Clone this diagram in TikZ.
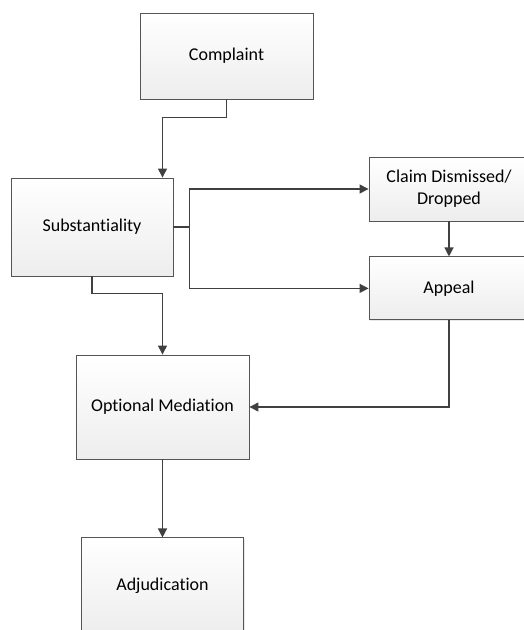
\documentclass[tikz,border=0pt]{standalone}
\usepackage{fontspec}
\setmainfont{Carlito}[Ligatures={NoCommon}]
\usetikzlibrary{positioning,arrows.meta,shadows}

\definecolor{linegray}{HTML}{404040}
\definecolor{boxline}{HTML}{555555}

\tikzset{
    stepbox/.style={rectangle, draw=boxline, line width=0.9pt,
        top color=white, bottom color=black!7,
        drop shadow={shadow xshift=1.2pt, shadow yshift=-1.2pt, opacity=0.18},
        align=center, font=\fontsize{18}{22}\selectfont, inner sep=0pt},
    arr/.style={draw=linegray, line width=1.3pt,
        -{Triangle[length=9pt, width=9pt]}}
}

\begin{document}
\begin{tikzpicture}[node distance = 35pt]
    \useasboundingbox (0,0) rectangle (524pt,-630pt);
    \clip (0,0) rectangle (524pt,-630pt);

    \node (complaint) [stepbox, minimum width=173pt, minimum height=86pt] at (226.5pt,-56pt) {Complaint};
    \node (subst) [stepbox, minimum width=162pt, minimum height=98pt] at (92pt,-227pt) {Substantiality};
    \node (claim) [stepbox, minimum width=160pt, minimum height=64pt] at (449pt,-189pt) {Claim Dismissed/\\Dropped};
    \node (appeal) [stepbox, below=35pt of claim, minimum width=160pt, minimum height=63pt] {Appeal};
    \node (opt) [stepbox, minimum width=173pt, minimum height=104pt] at (162.5pt,-407pt) {Optional Mediation};
    \node (adj) [stepbox, below=78pt of opt, minimum width=162pt, minimum height=96pt] {Adjudication};

    \draw [arr] (complaint.south) -- ++(0,-18pt) -| (subst.north -| opt.north);
    \draw [arr] (subst.east) -- ++(16pt,0) |- (claim.west);
    \draw [arr] (subst.east) -- ++(16pt,0) |- (appeal.west);
    \draw [arr] (claim.south) -- (appeal.north);
    \draw [arr] (subst.south) -- ++(0,-17pt) -| (opt.north);
    \draw [arr] (appeal.south) |- (opt.east);
    \draw [arr] (opt.south) -- (adj.north);
\end{tikzpicture}
\end{document}
